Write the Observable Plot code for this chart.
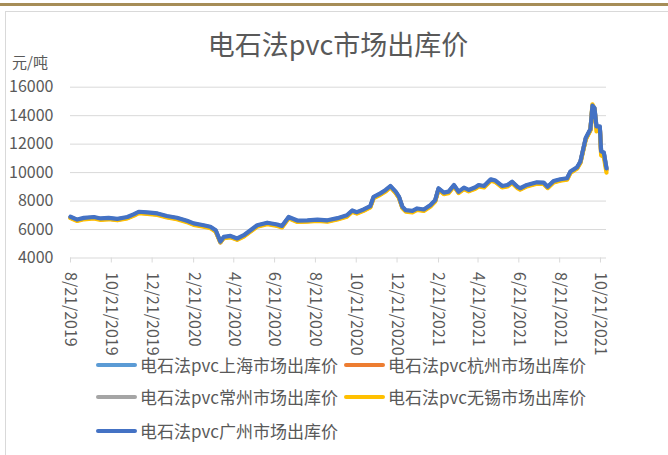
<!DOCTYPE html>
<html>
<head>
<meta charset="utf-8">
<script src="https://cdn.jsdelivr.net/npm/d3@7"></script>
<script src="https://cdn.jsdelivr.net/npm/@observablehq/plot@0.6"></script>
<style>
  html, body { margin: 0; padding: 0; background: #fff; }
  #wrap { position: relative; width: 668px; height: 455px; overflow: hidden; font-family: "Noto Sans CJK SC", "Noto Sans", sans-serif; color: #595959; }
  #gold { position: absolute; left: 0; top: 3px; width: 668px; height: 2.5px; background: #a68d57; }
  #frame { position: absolute; left: 5px; top: 11px; right: -2px; bottom: -2px; border-left: 1px solid #d9d9d9; border-top: 1px solid #d9d9d9; }
  #title { position: absolute; left: 0; width: 676px; top: 29px; text-align: center; font-size: 27px; line-height: 30px; }
  #unit { position: absolute; left: 12px; top: 53px; font-size: 15px; line-height: 18px; }
  #chart { position: absolute; left: 0; top: 0; }
  .leg { position: absolute; font-size: 17px; line-height: 20px; white-space: nowrap; }
  .leg .sw { position: absolute; top: 8px; height: 4px; border-radius: 2px; }
  .leg .tx { position: absolute; top: 0; }
</style>
</head>
<body>
<div id="wrap">
  <div id="gold"></div>
  <div id="frame"></div>
  <div id="chart"></div>
  <div id="title"></div>
  <div id="unit"></div>
  <div id="legend"></div>
</div>
<script>
const titleText = "电石法pvc市场出库价";
const unitText = "元/吨";
const seriesNames = ["电石法pvc上海市场出库价", "电石法pvc杭州市场出库价", "电石法pvc常州市场出库价", "电石法pvc无锡市场出库价", "电石法pvc广州市场出库价"];
const seriesColors = ["#5B9BD5", "#ED7D31", "#A5A5A5", "#FFC000", "#4472C4"];

const dates = ["2019-08-21","2019-08-31","2019-09-10","2019-09-25","2019-10-05","2019-10-17","2019-10-30","2019-11-14","2019-11-24","2019-12-01",
"2019-12-14","2019-12-29","2020-01-12","2020-01-27","2020-02-11","2020-02-21","2020-03-07","2020-03-17","2020-03-25","2020-04-01",
"2020-04-06","2020-04-16","2020-04-26","2020-05-06","2020-05-16","2020-05-26","2020-06-10","2020-06-25","2020-07-02","2020-07-12",
"2020-07-25","2020-08-09","2020-08-24","2020-09-08","2020-09-23","2020-10-07","2020-10-15","2020-10-22","2020-11-01","2020-11-11",
"2020-11-16","2020-11-26","2020-12-04","2020-12-11","2020-12-19","2020-12-24","2020-12-29","2021-01-03","2021-01-13","2021-01-20",
"2021-01-30","2021-02-09","2021-02-16","2021-02-21","2021-03-01","2021-03-08","2021-03-16","2021-03-23","2021-03-31","2021-04-07",
"2021-04-17","2021-04-22","2021-04-30","2021-05-10","2021-05-17","2021-05-27","2021-06-04","2021-06-11","2021-06-19","2021-06-23",
"2021-07-03","2021-07-18","2021-07-28","2021-08-03","2021-08-12","2021-08-22","2021-09-01","2021-09-06","2021-09-16","2021-09-21",
"2021-09-29","2021-10-06","2021-10-09","2021-10-12","2021-10-15","2021-10-20","2021-10-22","2021-10-26","2021-10-30"];

const shanghai = [6860,6660,6780,6840,6740,6780,6710,6840,7040,7210,
7160,7090,6910,6790,6580,6390,6260,6160,5910,5120,
5440,5510,5330,5560,5910,6260,6440,6310,6210,6840,
6590,6610,6660,6610,6760,6960,7300,7180,7370,7610,
8260,8500,8740,9020,8620,8260,7560,7320,7270,7440,
7370,7680,8030,8860,8550,8620,9090,8620,8900,8740,
8930,9090,9020,9490,9400,9020,9090,9320,8970,8860,
9090,9280,9260,8970,9370,9490,9560,10030,10340,10740,
12390,13030,14650,14500,13200,13200,11450,11370,10250];

const hangzhou = [6840,6640,6760,6820,6720,6760,6690,6820,7020,7190,
7140,7070,6890,6770,6560,6370,6240,6140,5890,5110,
5420,5490,5310,5540,5890,6240,6420,6290,6190,6820,
6570,6590,6640,6590,6740,6940,7280,7160,7350,7590,
8240,8480,8720,9000,8600,8240,7540,7300,7250,7420,
7350,7660,8010,8840,8530,8600,9070,8600,8880,8720,
8910,9070,9000,9470,9380,9000,9070,9300,8950,8840,
9070,9260,9240,8950,9350,9470,9540,10010,10320,10720,
12370,13010,14600,14450,13150,13150,11400,11300,10200];

const changzhou = [6850,6650,6770,6830,6730,6770,6700,6830,7030,7200,
7150,7080,6900,6780,6570,6380,6250,6150,5900,5110,
5430,5500,5320,5550,5900,6250,6430,6300,6200,6830,
6580,6600,6650,6600,6750,6950,7290,7170,7360,7600,
8250,8490,8730,9010,8610,8250,7550,7310,7260,7430,
7360,7670,8020,8850,8540,8610,9080,8610,8890,8730,
8920,9080,9010,9480,9390,9010,9080,9310,8960,8850,
9080,9270,9250,8960,9360,9480,9550,10020,10330,10730,
12380,13020,14650,14500,13200,13200,11450,11350,10250];

const wuxi = [6800,6600,6720,6780,6680,6720,6650,6780,6980,7150,
7100,7030,6850,6730,6520,6330,6200,6100,5850,5100,
5400,5450,5280,5500,5850,6200,6380,6250,6150,6780,
6530,6550,6600,6550,6700,6900,7240,7120,7310,7550,
8200,8440,8680,8980,8560,8200,7500,7260,7210,7380,
7310,7620,7970,8800,8490,8560,9030,8560,8840,8680,
8870,9030,8960,9430,9340,8960,9030,9260,8910,8800,
9030,9220,9200,8910,9310,9430,9500,9970,10280,10680,
12330,12970,14800,14500,12900,13100,11200,11100,10000];

const guangzhou = [6900,6700,6820,6880,6780,6820,6750,6880,7080,7250,
7200,7130,6950,6830,6620,6430,6300,6200,5950,5150,
5480,5550,5370,5600,5950,6300,6480,6350,6250,6880,
6630,6650,6700,6650,6800,7000,7340,7220,7410,7650,
8300,8540,8780,9060,8660,8300,7600,7360,7310,7480,
7410,7720,8070,8900,8590,8660,9130,8660,8940,8780,
8970,9130,9060,9530,9440,9060,9130,9360,9010,8900,
9130,9320,9300,9010,9410,9530,9600,10070,10380,10780,
12430,13070,14700,14550,13250,13250,11490,11410,10300];

const xTickDates = ["2019-08-21","2019-10-21","2019-12-21","2020-02-21","2020-04-21","2020-06-21","2020-08-21","2020-10-21","2020-12-21","2021-02-21","2021-04-21","2021-06-21","2021-08-21","2021-10-21"];
const xTickLabels = ["8/21/2019","10/21/2019","12/21/2019","2/21/2020","4/21/2020","6/21/2020","8/21/2020","10/21/2020","12/21/2020","2/21/2021","4/21/2021","6/21/2021","8/21/2021","10/21/2021"];
const yTicks = [4000, 6000, 8000, 10000, 12000, 14000, 16000];
const yTickLabels = ["4000", "6000", "8000", "10000", "12000", "14000", "16000"];
const xDomain = ["2019-08-21", "2021-10-30"];

const seriesValues = [shanghai, hangzhou, changzhou, wuxi, guangzhou];
const rows = [];
seriesValues.forEach((vals, s) => vals.forEach((v, i) => rows.push({date: new Date(dates[i]), value: v, series: seriesNames[s]})));
const labelByTime = new Map(xTickDates.map((d, i) => [new Date(d).getTime(), xTickLabels[i]]));
const yLabelByValue = new Map(yTicks.map((v, i) => [v, yTickLabels[i]]));

const chart = Plot.plot({
  width: 668,
  height: 455,
  marginLeft: 70,
  marginRight: 62,
  marginTop: 86.7,
  marginBottom: 197.5,
  style: {fontFamily: "'Noto Sans CJK SC', 'Noto Sans', sans-serif", fontSize: "16px", color: "#595959", background: "transparent", overflow: "visible"},
  x: {type: "utc", domain: xDomain.map(d => new Date(d)), label: null},
  y: {domain: [yTicks[0], yTicks[yTicks.length - 1]], label: null},
  marks: [
    Plot.gridY(yTicks.slice(1), {stroke: "#d9d9d9", strokeOpacity: 1, strokeWidth: 1}),
    Plot.ruleY([yTicks[0]], {stroke: "#d9d9d9", strokeWidth: 1}),
    Plot.axisY(yTicks, {tickSize: 0, tickPadding: 17, fontSize: 16, fill: "#595959", label: null, tickFormat: v => yLabelByValue.get(v)}),
    Plot.axisX(xTickDates.map(d => new Date(d)), {tickSize: 5, stroke: "#d9d9d9", strokeOpacity: 1, tickRotate: 90, tickPadding: 9, fontSize: 16, fill: "#595959", label: null, tickFormat: d => labelByTime.get(d.getTime())}),
    ...seriesNames.map((name, s) => Plot.lineY(rows.filter(r => r.series === name), {x: "date", y: "value", stroke: seriesColors[s], strokeWidth: 4.2, strokeLinejoin: "round", strokeLinecap: "round"}))
  ]
});
document.getElementById("chart").appendChild(chart);
document.getElementById("title").textContent = titleText;
document.getElementById("unit").textContent = unitText;

const legendPos = [[96, 355], [344, 355], [96, 387], [344, 387], [96, 421]];
const legendOrder = [0, 1, 2, 3, 4];
const legend = document.getElementById("legend");
legendOrder.forEach((s, k) => {
  const el = document.createElement("div");
  el.className = "leg";
  el.style.left = legendPos[k][0] + "px";
  el.style.top = legendPos[k][1] + "px";
  const sw = document.createElement("div");
  sw.className = "sw";
  sw.style.left = "0px";
  sw.style.width = "41px";
  sw.style.background = seriesColors[s];
  const tx = document.createElement("div");
  tx.className = "tx";
  tx.style.left = "44px";
  tx.textContent = seriesNames[s];
  el.appendChild(sw);
  el.appendChild(tx);
  legend.appendChild(el);
});
</script>
</body>
</html>
